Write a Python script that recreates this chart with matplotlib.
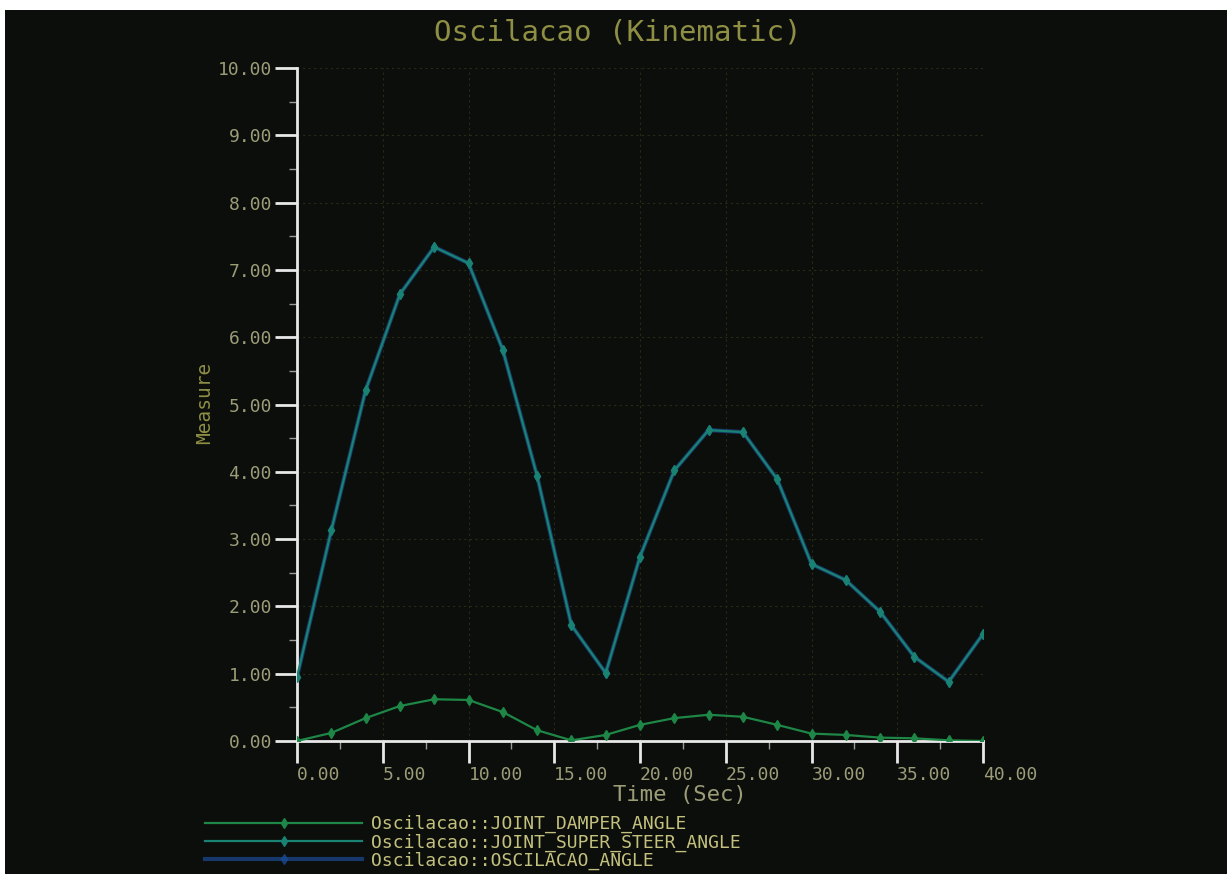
import matplotlib
matplotlib.use("Agg")
import matplotlib.pyplot as plt
from matplotlib.patches import Rectangle
from matplotlib.ticker import MultipleLocator, FormatStrFormatter

# Simulation output, sampled every 2 s
time_s = [0, 2, 4, 6, 8, 10, 12, 14, 16, 18, 20, 22, 24, 26, 28, 30, 32, 34, 36, 38, 40]
damper_angle = [0.00, 0.12, 0.34, 0.52, 0.62, 0.61, 0.43, 0.16, 0.01, 0.09, 0.24,
                0.34, 0.39, 0.36, 0.24, 0.11, 0.09, 0.05, 0.04, 0.01, 0.00]
super_steer_angle = [0.95, 3.13, 5.21, 6.64, 7.34, 7.10, 5.81, 3.94, 1.72, 1.01, 2.74,
                     4.02, 4.62, 4.59, 3.89, 2.63, 2.39, 1.92, 1.25, 0.88, 1.59]
oscilacao_angle = [0.95, 3.13, 5.21, 6.64, 7.34, 7.10, 5.81, 3.94, 1.72, 1.01, 2.74,
                   4.02, 4.62, 4.59, 3.89, 2.63, 2.39, 1.92, 1.25, 0.88, 1.59]

series_names = ["Oscilacao::JOINT_DAMPER_ANGLE",
                "Oscilacao::JOINT_SUPER_STEER_ANGLE",
                "Oscilacao::OSCILACAO_ANGLE"]

BG = "#0b0e0a"
TXT = "#9c9c78"
TITLE = "#8e8e44"
MONO = "DejaVu Sans Mono"

fig = plt.figure(figsize=(12.27, 8.74), dpi=100)
fig.patch.set_facecolor("white")
# dark canvas of the plot window
fig.add_artist(Rectangle((5 / 1227, 0), 1 - 5 / 1227, 1 - 10 / 874,
                         transform=fig.transFigure, facecolor=BG,
                         edgecolor="none", zorder=0))

ax = fig.add_axes([297 / 1227, 1 - 741 / 874, 686 / 1227, 673 / 874])
ax.set_facecolor("none")

# OSCILACAO underneath, super-steer on top of it
ax.plot(time_s, oscilacao_angle, color="#1b4a94", lw=3.0, marker="d", ms=5,
        alpha=0.7, zorder=2, label=series_names[2])
ax.plot(time_s, super_steer_angle, color="#1a8272", lw=1.6, marker="d", ms=5,
        zorder=3, label=series_names[1])
ax.plot(time_s, damper_angle, color="#1e8646", lw=1.6, marker="d", ms=5,
        zorder=4, label=series_names[0])

ax.set_xlim(0, 40)
ax.set_ylim(0, 10)
ax.xaxis.set_major_locator(MultipleLocator(5))
ax.xaxis.set_minor_locator(MultipleLocator(2.5))
ax.yaxis.set_major_locator(MultipleLocator(1))
ax.yaxis.set_minor_locator(MultipleLocator(0.5))
ax.xaxis.set_major_formatter(FormatStrFormatter("%.2f"))
ax.yaxis.set_major_formatter(FormatStrFormatter("%.2f"))

for side in ("top", "right"):
    ax.spines[side].set_visible(False)
for side in ("left", "bottom"):
    ax.spines[side].set_color("#e8e8e8")
    ax.spines[side].set_linewidth(2)

ax.tick_params(which="major", direction="out", length=16, width=2, color="#e8e8e8",
               labelcolor=TXT, labelsize=13, pad=2)
ax.tick_params(which="minor", direction="out", length=6, width=1, color="#9a9a9a")
for lab in ax.get_xticklabels() + ax.get_yticklabels():
    lab.set_family(MONO)
for lab in ax.get_xticklabels():
    lab.set_horizontalalignment("left")

ax.grid(True, which="major", color="#2a2a16", lw=0.8, ls=(0, (2, 3)))
ax.set_axisbelow(True)

ax.set_xlabel("Time (Sec)", family=MONO, fontsize=16, color=TXT)
ax.xaxis.set_label_coords((680 - 297) / 686, -(795 - 741) / 673)
ax.xaxis.label.set_va("center")
ax.set_ylabel("Measure", family=MONO, fontsize=14, color=TITLE)
ax.yaxis.set_label_coords(-(297 - 205) / 686, (741 - 403) / 673)
ax.yaxis.label.set_va("center")

fig.text(618 / 1227, 1 - 33 / 874, "Oscilacao (Kinematic)", family=MONO,
         fontsize=21, color=TITLE, ha="center", va="center")

handles, labels = ax.get_legend_handles_labels()
order = [2, 1, 0]
leg = fig.legend([handles[i] for i in order], [labels[i] for i in order],
                 loc="upper left", bbox_to_anchor=(198 / 1227, 1 - 808 / 874),
                 frameon=False, numpoints=1, handlelength=8.7,
                 handletextpad=0.5, labelspacing=0.0, borderaxespad=0,
                 prop={"family": MONO, "size": 13})
for t in leg.get_texts():
    t.set_color("#c4c07e")

fig.savefig("out.png", dpi=100, facecolor=fig.get_facecolor())
